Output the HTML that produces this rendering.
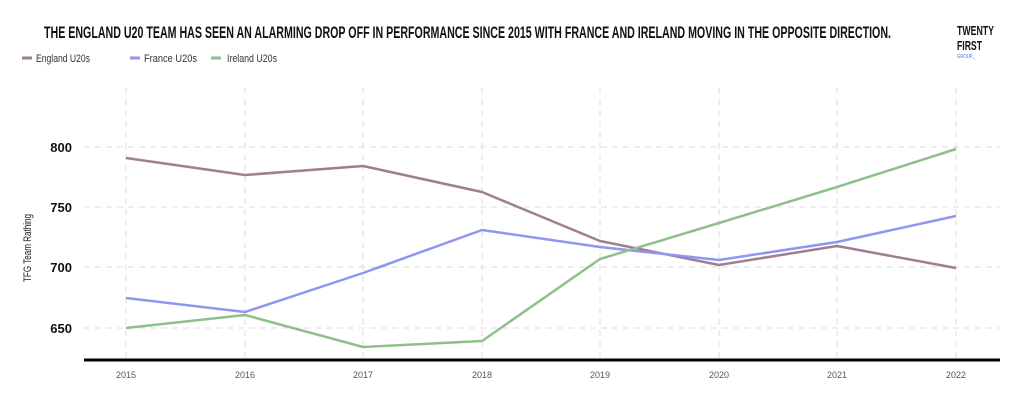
<!DOCTYPE html>
<html><head><meta charset="utf-8"><style>
body{margin:0;background:#fff;}
svg{display:block;font-family:"Liberation Sans",sans-serif;}
</style></head><body>
<svg width="1030" height="409" viewBox="0 0 1030 409">
<text x="44" y="38" font-size="17" font-weight="bold" fill="#111" textLength="847" lengthAdjust="spacingAndGlyphs">THE ENGLAND U20 TEAM HAS SEEN AN ALARMING DROP OFF IN PERFORMANCE SINCE 2015 WITH FRANCE AND IRELAND MOVING IN THE OPPOSITE DIRECTION.</text>
<text x="957" y="35" font-size="13" font-weight="bold" fill="#111" textLength="37" lengthAdjust="spacingAndGlyphs">TWENTY</text>
<text x="957" y="50" font-size="13" font-weight="bold" fill="#111" textLength="25" lengthAdjust="spacingAndGlyphs">FIRST</text>
<text x="957" y="58" font-size="5" fill="#4a6cf0" textLength="18" lengthAdjust="spacingAndGlyphs">GROUP_</text>
<g font-size="11" fill="#333">
<line x1="22" y1="58" x2="32" y2="58" stroke="#a07d92" stroke-width="3"/>
<text x="36" y="62" textLength="54" lengthAdjust="spacingAndGlyphs">England U20s</text>
<line x1="130" y1="58" x2="140" y2="58" stroke="#8f96f2" stroke-width="3"/>
<text x="144" y="62" textLength="53" lengthAdjust="spacingAndGlyphs">France U20s</text>
<line x1="211" y1="58" x2="221" y2="58" stroke="#8fc08c" stroke-width="3"/>
<text x="227" y="62" textLength="50" lengthAdjust="spacingAndGlyphs">Ireland U20s</text>
</g>
<g stroke="#ddd" stroke-dasharray="6,5" stroke-width="1">
<line x1="84" y1="147" x2="1000" y2="147"/><line x1="84" y1="207" x2="1000" y2="207"/>
<line x1="84" y1="267" x2="1000" y2="267"/><line x1="84" y1="328" x2="1000" y2="328"/>
<line x1="126" y1="88" x2="126" y2="360"/><line x1="245" y1="88" x2="245" y2="360"/>
<line x1="363" y1="88" x2="363" y2="360"/><line x1="482" y1="88" x2="482" y2="360"/>
<line x1="600" y1="88" x2="600" y2="360"/><line x1="719" y1="88" x2="719" y2="360"/>
<line x1="837" y1="88" x2="837" y2="360"/><line x1="956" y1="88" x2="956" y2="360"/>
</g>
<g font-size="13" font-weight="bold" fill="#111" text-anchor="end">
<text x="72" y="152">800</text><text x="72" y="212">750</text><text x="72" y="272">700</text><text x="72" y="333">650</text>
</g>
<text transform="translate(31,248) rotate(-90)" font-size="11" fill="#222" text-anchor="middle" textLength="68" lengthAdjust="spacingAndGlyphs">TFG Team Rathing</text>
<line x1="84" y1="360" x2="1000" y2="360" stroke="#000" stroke-width="3"/>
<g font-size="9" fill="#555" text-anchor="middle">
<text x="126" y="378">2015</text><text x="245" y="378">2016</text><text x="363" y="378">2017</text><text x="482" y="378">2018</text>
<text x="600" y="378">2019</text><text x="719" y="378">2020</text><text x="837" y="378">2021</text><text x="956" y="378">2022</text>
</g>
<g fill="none" stroke-width="2.5" stroke-linejoin="round">
<polyline stroke="#a07d92" points="126,158 245,175 363,166 482,192 600,241 719,265 837,246 956,268"/>
<polyline stroke="#8f96f2" points="126,298 245,312 363,273 482,230 600,247 719,260 837,242 956,216"/>
<polyline stroke="#8fc08c" points="126,328 245,315 363,347 482,341 600,259 719,223 837,187 956,149"/>
</g>
</svg>
</body></html>
